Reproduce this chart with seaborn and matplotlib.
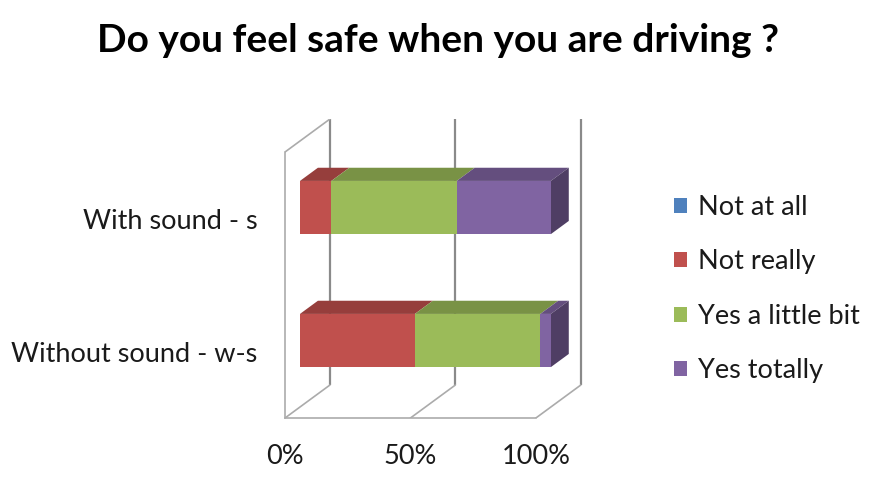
import numpy as np
import matplotlib
matplotlib.use("Agg")
import matplotlib.pyplot as plt
import matplotlib.colors as mcolors
from matplotlib.patches import Polygon, Patch
import seaborn as sns

# data: share of answers (%) per condition
categories = ["Without sound - w-s", "With sound - s"]
answers = ["Not at all", "Not really", "Yes a little bit", "Yes totally"]
not_at_all = [0.0, 0.0]
not_really = [45.8, 12.5]
yes_little = [50.0, 50.0]
yes_totally = [4.2, 37.5]
pct_ticks = [0, 50, 100]
pct_labels = ["0%", "50%", "100%"]

colors = ["#4F81BD", "#C0504D", "#9BBB59", "#8064A2"]

# fake 3d look (excel style): how far the back wall sits, in data units
DEPTH_X = 17.9
DEPTH_Y = 0.248
BAR_FRONT = 1 / 3
BAR_BACK = 0.733
BAR_H = 0.4


def shift(x, y, d):
    return x + d * DEPTH_X, y + d * DEPTH_Y


def shade(c, f):
    r, g, b = mcolors.to_rgb(c)
    return (r * f, g * f, b * f)


sns.set_theme(style="white")
plt.rcParams["font.family"] = ["Lato", "DejaVu Sans"]

fig = plt.figure(figsize=(8.87, 4.9), dpi=100)
ax = fig.add_axes([0.3213, 0.1469, 0.3394, 0.6107])
ax.set_xlim(0, 120)
ax.set_ylim(-0.5, 1.75)

grid_c = "#8a8a8a"
edge_c = "#ababab"

# back wall gridlines and the matching lines on the floor
for t in pct_ticks:
    x0, y0 = shift(t, -0.5, 1)
    x1, y1 = shift(t, 1.5, 1)
    ax.plot([x0, x1], [y0, y1], color=grid_c, lw=1.6, zorder=1, solid_capstyle="butt")
    ax.plot([t, x0], [-0.5, y0], color=edge_c, lw=1.2, zorder=1)

# top edge of the left wall
xt, yt = shift(0, 1.5, 1)
ax.plot([0, xt], [1.5, yt], color=edge_c, lw=1.2, zorder=1)

# stacked bars
series = [not_at_all, not_really, yes_little, yes_totally]
ypos = np.arange(len(categories))
left = np.zeros(len(categories))
last_col = [None] * len(categories)
for vals, col in zip(series, colors):
    vals = np.array(vals)
    fx, fy = shift(left, ypos, BAR_FRONT)
    ax.barh(fy, vals, left=fx, height=BAR_H, color=col, lw=0, zorder=3)
    for i in range(len(categories)):
        if vals[i] <= 0:
            continue
        last_col[i] = col
        top = ypos[i] + BAR_H / 2
        pts = [shift(left[i], top, BAR_FRONT),
               shift(left[i] + vals[i], top, BAR_FRONT),
               shift(left[i] + vals[i], top, BAR_BACK),
               shift(left[i], top, BAR_BACK)]
        ax.add_patch(Polygon(pts, closed=True, fc=shade(col, 0.78), lw=0, zorder=2))
    left = left + vals

# right hand side of each bar
for i in range(len(categories)):
    bot = ypos[i] - BAR_H / 2
    top = ypos[i] + BAR_H / 2
    pts = [shift(left[i], bot, BAR_FRONT),
           shift(left[i], top, BAR_FRONT),
           shift(left[i], top, BAR_BACK),
           shift(left[i], bot, BAR_BACK)]
    ax.add_patch(Polygon(pts, closed=True, fc=shade(last_col[i], 0.62), lw=0, zorder=2))

# axes / walls
for s in ["top", "right"]:
    ax.spines[s].set_visible(False)
ax.spines["left"].set_bounds(-0.5, 1.5)
ax.spines["bottom"].set_bounds(0, 100)
for s in ["left", "bottom"]:
    ax.spines[s].set_color(edge_c)
    ax.spines[s].set_linewidth(1.2)

ax.set_xticks(pct_ticks, pct_labels)
ax.tick_params(axis="x", direction="out", length=5, width=1.2, color=edge_c,
               labelsize=19.5, pad=14, labelcolor="#1a1a1a")
ax.set_yticks([-0.5, 0.5, 1.5], ["", "", ""])
ax.set_yticks(ypos, categories, minor=True)
ax.tick_params(axis="y", which="major", direction="out", length=5, width=1.2, color=edge_c)
ax.tick_params(axis="y", which="minor", length=0, labelsize=19.5, pad=20, labelcolor="#1a1a1a")

fig.text(0.494, 0.894, "Do you feel safe when you are driving ?", ha="center", va="baseline",
         fontsize=28, fontweight="bold", color="black")

handles = [Patch(fc=c, ec="none") for c in colors]
fig.legend(handles, answers, loc="center left", bbox_to_anchor=(0.732, 0.41), frameon=False,
           fontsize=19.5, handlelength=0.48, handleheight=0.48, handletextpad=0.42,
           labelspacing=1.08, labelcolor="#1a1a1a")

fig.savefig("out.png", dpi=100)
